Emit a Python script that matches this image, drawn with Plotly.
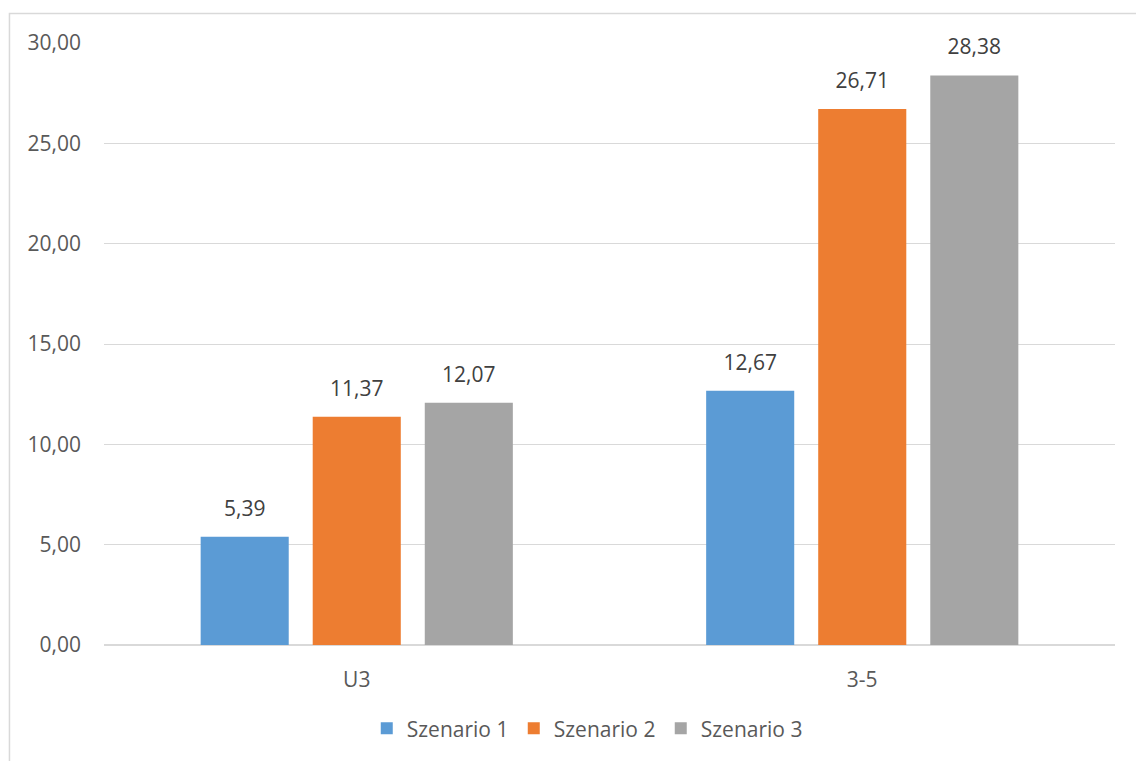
import plotly.graph_objects as go

categories = ["U3", "3-5"]
szenario_1 = [5.39, 12.67]
szenario_2 = [11.37, 26.71]
szenario_3 = [12.07, 28.38]
series_names = ["Szenario 1", "Szenario 2", "Szenario 3"]
y_ticks = [0, 5, 10, 15, 20, 25, 30]

colors = ["#5B9BD5", "#ED7D31", "#A5A5A5"]
font_family = "Open Sans, sans-serif"
fsize = 21

fig = go.Figure()
for i, (name, vals, col) in enumerate(zip(series_names, [szenario_1, szenario_2, szenario_3], colors)):
    fig.add_trace(go.Bar(
        x=categories, y=vals, name=name, offsetgroup=str(i),
        marker=dict(color=col, line=dict(width=0)),
    ))
# value labels, placed in the same groups as the bars
for i, vals in enumerate([szenario_1, szenario_2, szenario_3]):
    fig.add_trace(go.Scatter(
        x=categories, y=vals, offsetgroup=str(i), mode="markers+text",
        marker=dict(size=24, opacity=0), text=vals, texttemplate="%{y:.2f}",
        textposition="top center", showlegend=False, hoverinfo="skip",
        textfont=dict(size=fsize, color="#404040", family=font_family),
        cliponaxis=False,
    ))

fig.update_layout(
    width=1136, height=761,
    margin=dict(l=104, r=21, t=43, b=114),
    paper_bgcolor="white", plot_bgcolor="white",
    separators=",.",
    barmode="group", bargap=0.335, bargroupgap=0.214,
    scattermode="group", scattergap=0.335,
    font=dict(family=font_family, size=fsize, color="#595959"),
    showlegend=True,
    legend=dict(orientation="h", x=0.478, xanchor="center", y=-0.139, yanchor="middle",
                font=dict(size=fsize, color="#595959"), itemwidth=30, tracegroupgap=0,
                entrywidth=102),
    xaxis=dict(showgrid=False, showline=False, ticks="", ticklabelstandoff=20,
               tickfont=dict(size=fsize, color="#595959")),
    yaxis=dict(range=[0, 30], tickvals=y_ticks, tickformat=".2f", showgrid=True,
               gridcolor="#D9D9D9", gridwidth=1.3, zeroline=True, zerolinecolor="#D9D9D9",
               zerolinewidth=2, ticks="", ticklabelstandoff=22,
               tickfont=dict(size=fsize, color="#595959")),
    shapes=[dict(type="rect", xref="paper", yref="paper",
                 x0=-0.0935, x1=1.2, y0=-0.4, y1=1.0488,
                 line=dict(color="#D9D9D9", width=1.5), fillcolor="rgba(0,0,0,0)", layer="below")],
)

fig.write_html("out.html")
